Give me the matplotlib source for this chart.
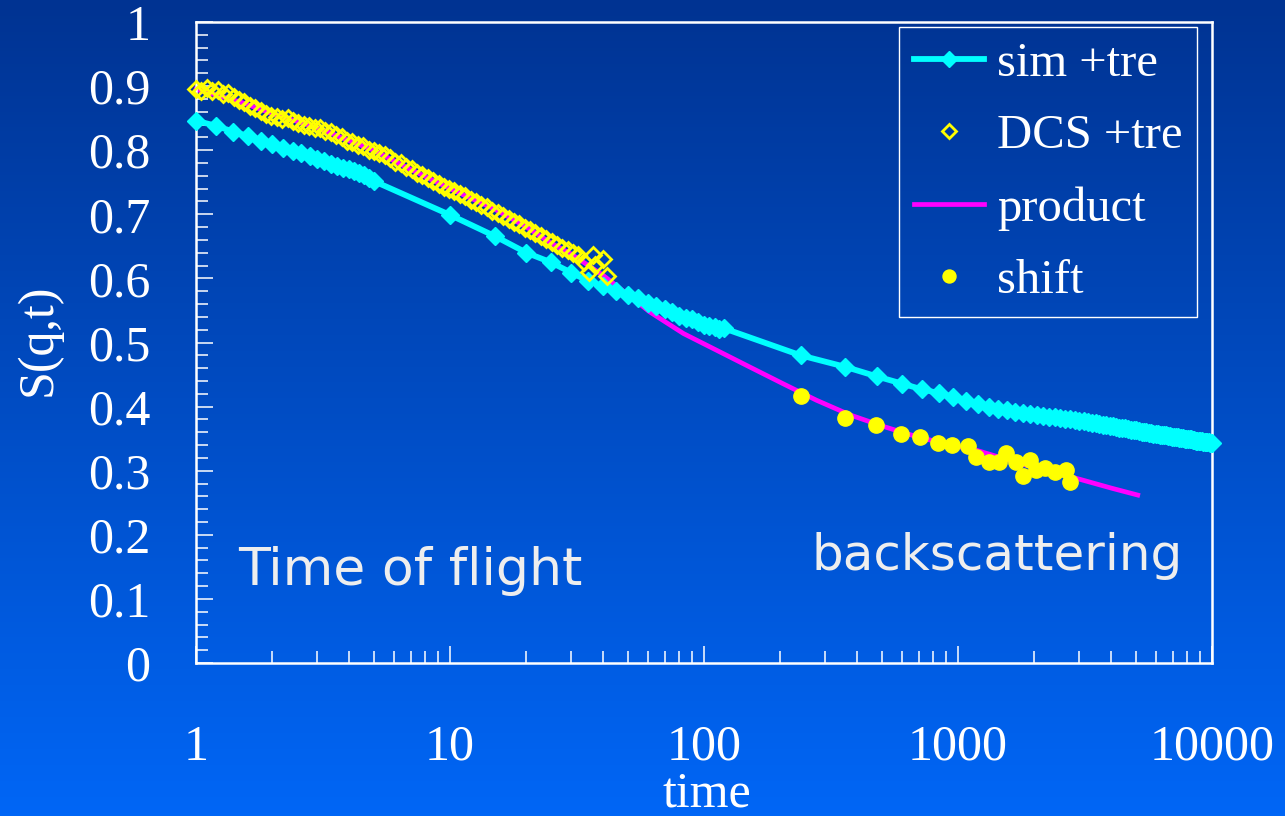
import numpy as np
import matplotlib
matplotlib.use("Agg")
import matplotlib.pyplot as plt
from matplotlib.colors import LinearSegmentedColormap
from matplotlib.ticker import MultipleLocator, LogLocator, FixedLocator, NullFormatter

# ── data ───────────────────────────────────────────────────────────────────
sim_t = [1.0, 1.2, 1.4, 1.6, 1.8, 2.0, 2.2, 2.4, 2.6, 2.8, 3.0, 3.2, 3.4, 3.6,
         3.8, 4.0, 4.2, 4.4, 4.6, 4.8, 5.0,
         10, 15, 20, 25, 30, 35, 40, 45, 50, 55, 60, 65, 70, 75, 80, 85, 90,
         95, 100, 105, 110, 115, 120,
         240, 360, 480, 600, 720, 840, 960, 1080, 1200, 1320, 1440, 1560,
         1680, 1800, 1920, 2040, 2160, 2280, 2400, 2520, 2640, 2760, 2880,
         3000, 3120, 3240, 3360, 3480, 3600, 3720, 3840, 3960, 4080, 4200,
         4320, 4440, 4560, 4680, 4800, 4920, 5040, 5160, 5280, 5400, 5520,
         5640, 5760, 5880, 6000, 6120, 6240, 6360, 6480, 6600, 6720, 6840,
         6960, 7080, 7200, 7320, 7440, 7560, 7680, 7800, 7920, 8040, 8160,
         8280, 8400, 8520, 8640, 8760, 8880, 9000, 9120, 9240, 9360, 9480,
         9600, 9720, 9840, 9960]
sim_s = [0.846, 0.838, 0.829, 0.822, 0.815, 0.809, 0.804, 0.799, 0.795, 0.791,
         0.787, 0.783, 0.779, 0.776, 0.773, 0.770, 0.767, 0.764, 0.761, 0.757,
         0.752,
         0.699, 0.666, 0.640, 0.625, 0.609, 0.596, 0.588, 0.580, 0.574, 0.569,
         0.562, 0.557, 0.552, 0.547, 0.542, 0.539, 0.536, 0.532, 0.528, 0.526,
         0.524, 0.521, 0.522,
         0.480, 0.462, 0.447, 0.436, 0.427, 0.421, 0.415, 0.409, 0.404, 0.400,
         0.397, 0.394, 0.392, 0.390, 0.389, 0.387, 0.385, 0.384, 0.383, 0.382,
         0.381, 0.380, 0.379, 0.378, 0.377, 0.376, 0.375, 0.374, 0.373, 0.372,
         0.371, 0.370, 0.369, 0.368, 0.367, 0.367, 0.366, 0.365, 0.364, 0.364,
         0.363, 0.362, 0.361, 0.361, 0.360, 0.359, 0.359, 0.358, 0.357, 0.357,
         0.356, 0.356, 0.355, 0.355, 0.354, 0.354, 0.353, 0.353, 0.352, 0.352,
         0.351, 0.351, 0.351, 0.350, 0.350, 0.349, 0.349, 0.349, 0.348, 0.348,
         0.347, 0.347, 0.347, 0.346, 0.346, 0.345, 0.345, 0.345, 0.344, 0.344,
         0.343, 0.343]

dcs_t = [1.00, 1.05, 1.10, 1.16, 1.22, 1.28, 1.34, 1.41, 1.48, 1.55, 1.63,
         1.71, 1.80, 1.89, 1.98, 2.08, 2.19, 2.30, 2.41, 2.53, 2.66, 2.79,
         2.93, 3.08, 3.23, 3.40, 3.57, 3.74, 3.93, 4.13, 4.33, 4.55, 4.78,
         5.02, 5.27, 5.53, 5.81, 6.10, 6.40, 6.72, 7.06, 7.41, 7.78, 8.17,
         8.58, 9.01, 9.46, 9.93, 10.4, 10.9, 11.5, 12.1, 12.7, 13.3, 14.0,
         14.7, 15.4, 16.2, 17.0, 17.8, 18.7, 19.7, 20.7, 21.7, 22.8, 23.9,
         25.1, 26.4, 27.7, 29.1, 30.5, 32.0, 33.6, 35.3, 36.7, 37.1, 40.2,
         41.4]
dcs_s = [0.896, 0.893, 0.897, 0.892, 0.894, 0.888, 0.889, 0.883, 0.879, 0.875,
         0.869, 0.866, 0.861, 0.857, 0.853, 0.852, 0.849, 0.850, 0.845, 0.843,
         0.840, 0.838, 0.834, 0.835, 0.830, 0.828, 0.823, 0.821, 0.815, 0.813,
         0.808, 0.806, 0.801, 0.799, 0.796, 0.792, 0.788, 0.782, 0.780, 0.774,
         0.770, 0.765, 0.761, 0.756, 0.752, 0.747, 0.743, 0.740, 0.737, 0.732,
         0.728, 0.722, 0.719, 0.714, 0.711, 0.705, 0.702, 0.697, 0.693, 0.688,
         0.685, 0.679, 0.676, 0.671, 0.666, 0.662, 0.657, 0.652, 0.648, 0.644,
         0.640, 0.636, 0.626, 0.610, 0.636, 0.621, 0.631, 0.603]

prod_t = [1, 1.5, 2, 3, 4, 5, 7, 10, 15, 20, 25, 30, 40, 50, 61, 83, 112, 151,
          204, 277, 376, 509, 689, 934, 1180, 1600, 2200, 2930, 4000, 5100]
prod_s = [0.895, 0.875, 0.857, 0.835, 0.815, 0.800, 0.770, 0.740, 0.708, 0.680,
          0.655, 0.638, 0.605, 0.575, 0.548, 0.514, 0.488, 0.462, 0.436, 0.410,
          0.387, 0.369, 0.353, 0.340, 0.332, 0.316, 0.300, 0.288, 0.273, 0.262]

shift_t = [240, 358, 475, 594, 711, 833, 951, 1092, 1180, 1320, 1447, 1540,
           1690, 1800, 1920, 2030, 2200, 2410, 2650, 2750]
shift_s = [0.417, 0.382, 0.371, 0.357, 0.352, 0.343, 0.340, 0.338, 0.321, 0.314,
           0.314, 0.327, 0.314, 0.291, 0.316, 0.301, 0.304, 0.298, 0.301, 0.283]

x_ticks = [1, 10, 100, 1000, 10000]
x_tick_labels = ["1", "10", "100", "1000", "10000"]
y_ticks = [0, 0.1, 0.2, 0.3, 0.4, 0.5, 0.6, 0.7, 0.8, 0.9, 1]
y_tick_labels = ["0", "0.1", "0.2", "0.3", "0.4", "0.5", "0.6", "0.7", "0.8", "0.9", "1"]

CYAN = "#00ffff"
YELLOW = "#ffff00"
MAGENTA = "#ff00ff"
SERIF = "Liberation Serif"

# ── figure + gradient background ──────────────────────────────────────────
fig = plt.figure(figsize=(12.85, 8.16), dpi=100)
bg = fig.add_axes([0, 0, 1, 1], zorder=-10)
grad_cmap = LinearSegmentedColormap.from_list("bg", ["#003392", "#0066f6"])
bg.imshow(np.linspace(0, 1, 256).reshape(-1, 1), aspect="auto", cmap=grad_cmap,
          extent=[0, 1, 0, 1])
bg.set_axis_off()

ax = fig.add_axes([196 / 1285, 1 - 663 / 816, 1016 / 1285, 641 / 816])
ax.set_facecolor("none")

ax.plot(prod_t, prod_s, color=MAGENTA, lw=3.4, zorder=2, clip_on=False,
        label="product")
ax.plot(sim_t, sim_s, color=CYAN, lw=4.2, marker="D", ms=9.4, mec=CYAN,
        mfc=CYAN, zorder=3, clip_on=False, label="sim +tre")
ax.plot(dcs_t, dcs_s, ls="none", marker="D", ms=8.4, mfc="none", mec=YELLOW,
        mew=2.0, zorder=4, clip_on=False, label="DCS +tre")
ax.plot(shift_t, shift_s, ls="none", marker="o", ms=11, mfc=YELLOW, mec=YELLOW,
        zorder=5, clip_on=False, label="shift")

ax.set_xscale("log")
ax.set_xlim(1, 10000)
ax.set_ylim(0, 1)

ax.xaxis.set_major_locator(FixedLocator(x_ticks))
ax.set_xticklabels(x_tick_labels)
ax.xaxis.set_minor_locator(LogLocator(base=10, subs=np.arange(2, 10)))
ax.xaxis.set_minor_formatter(NullFormatter())
ax.set_yticks(y_ticks)
ax.set_yticklabels(y_tick_labels)
ax.yaxis.set_minor_locator(MultipleLocator(0.02))

for sp in ax.spines.values():
    sp.set_color("white")
    sp.set_linewidth(1.8)

ax.tick_params(which="both", direction="in", colors="white", top=False, right=False)
ax.tick_params(which="major", length=12.2, width=1.1)
ax.tick_params(which="minor", length=8.6, width=1.1)
ax.tick_params(axis="x", which="major", pad=44, labelsize=36)
ax.tick_params(axis="y", which="major", pad=33, labelsize=36)
for lab in ax.get_xticklabels() + ax.get_yticklabels():
    lab.set_fontfamily(SERIF)
    lab.set_color("white")

ax.set_xlabel("time", fontsize=36, family=SERIF, color="white")
ax.xaxis.set_label_coords(0.503, -0.205)
ax.xaxis.label.set_va("center")
ax.set_ylabel("S(q,t)", fontsize=36, family=SERIF, color="white")
ax.yaxis.set_label_coords(-0.155, 0.504)
ax.yaxis.label.set_va("center")

ax.text(0.041, 0.122, "Time of flight", transform=ax.transAxes, fontsize=37.5,
        family="DejaVu Sans", color="#eeeeee", va="baseline", ha="left")
ax.text(0.9715, 0.145, "backscattering", transform=ax.transAxes, fontsize=36,
        family="DejaVu Sans", color="#eeeeee", va="baseline", ha="right")

handles, labels = ax.get_legend_handles_labels()
order = [1, 2, 0, 3]
leg = ax.legend([handles[i] for i in order], [labels[i] for i in order],
                loc="upper right", bbox_to_anchor=(1 - 15 / 1016, 1 - 5 / 641),
                prop={"family": SERIF, "size": 35}, frameon=True, fancybox=False,
                edgecolor="white", facecolor="none", framealpha=1,
                handlelength=1.45, handletextpad=0.26, labelspacing=0.58,
                borderpad=0.3, borderaxespad=0, markerscale=0.85)
leg.get_frame().set_linewidth(1.0)
for txt in leg.get_texts():
    txt.set_color("white")

fig.savefig("out.png", dpi=100)
